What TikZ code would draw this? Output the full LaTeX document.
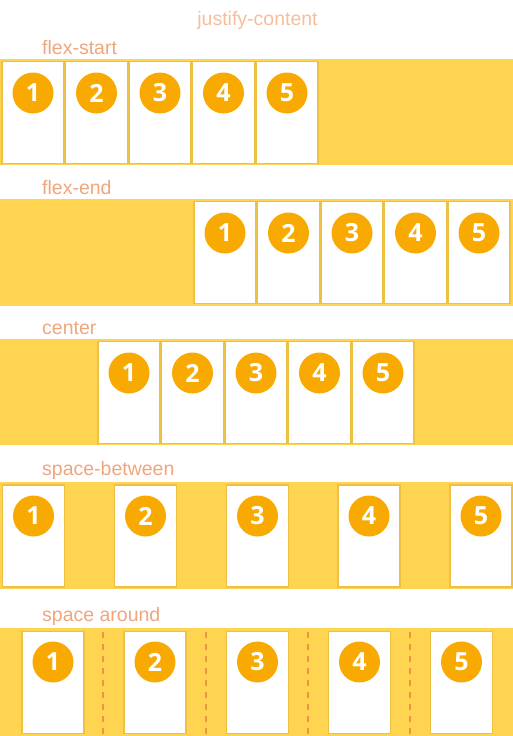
\documentclass[tikz,border=0pt]{standalone}
\usepackage{fontspec}
\setmainfont{Liberation Sans}
\newfontfamily\numfont{Open Sans}
\definecolor{bandc}{HTML}{FFD451}
\definecolor{boxline}{HTML}{EEC043}
\definecolor{circc}{HTML}{F8AA02}
\definecolor{lblc}{HTML}{F0A67C}
\definecolor{titlec}{HTML}{F6BE9C}
\definecolor{dashc}{HTML}{EE9545}
\tikzset{
  bandfill/.style={fill=bandc},
  fbox/.style={draw=boxline, line width=1.2pt, fill=white, inner sep=0pt, outer sep=0pt,
    minimum width=62pt, minimum height=102pt, anchor=north west},
  num/.style={circle, fill=circc, minimum size=41pt, inner sep=0pt,
    text=white, font=\numfont\fontsize{25pt}{25pt}\selectfont\bfseries},
  lbl/.style={anchor=base west, inner sep=0pt, text=lblc, font=\fontsize{19.5pt}{20pt}\selectfont},
  ttl/.style={anchor=base, inner sep=0pt, text=titlec, font=\fontsize{19.5pt}{20pt}\selectfont},
  dsh/.style={draw=dashc, line width=1.6pt, dash pattern=on 6pt off 6pt}
}
\begin{document}
\begin{tikzpicture}[x=1pt,y=-1pt]
\useasboundingbox (0,0) rectangle (513,736);
\fill[white] (0,0) rectangle (513,736);
% title
\node[ttl] (title) at (257.5,25) {justify-content};
% row 1: flex-start
\node[lbl] (l1) at (42,54) {flex-start};
\fill[bandfill] (0,59) rectangle (513,165);
\foreach \i/\x in {1/2,2/65.5,3/129,4/192.5,5/256}{
  \node[fbox] (r1b\i) at (\x,61.5) {};
  \node[num] (r1c\i) at (\x+31,93) {\i};
}
% row 2: flex-end
\node[lbl] (l2) at (42,194) {flex-end};
\fill[bandfill] (0,199) rectangle (513,306);
\foreach \i/\x in {1/194,2/257.5,3/321,4/384.5,5/448}{
  \node[fbox] (r2b\i) at (\x,201.5) {};
  \node[num] (r2c\i) at (\x+31,233) {\i};
}
% row 3: center
\node[lbl] (l3) at (42,334) {center};
\fill[bandfill] (0,339) rectangle (513,445);
\foreach \i/\x in {1/98,2/161.5,3/225,4/288.5,5/352}{
  \node[fbox] (r3b\i) at (\x,341.5) {};
  \node[num] (r3c\i) at (\x+31,373) {\i};
}
% row 4: space-between
\node[lbl] (l4) at (42,475.5) {space-between};
\fill[bandfill] (0,482) rectangle (513,589);
\foreach \i/\x in {1/2.5,2/114.5,3/226.5,4/338,5/450}{
  \node[fbox] (r4b\i) at (\x,485) {};
  \node[num] (r4c\i) at (\x+31,516) {\i};
}
% row 5: space around
\node[lbl] (l5) at (42,621.5) {space around};
\fill[bandfill] (0,628) rectangle (513,736);
\foreach \i/\x in {1/22,2/124,3/226.5,4/328.5,5/430.5}{
  \node[fbox] (r5b\i) at (\x,631.5) {};
  \node[num] (r5c\i) at (\x+31,662) {\i};
}
\foreach \j/\x in {1/103,2/206,3/308,4/410}{
  \coordinate (dt\j) at (\x,632);
  \coordinate (db\j) at (\x,736);
  \draw[dsh] (dt\j) -- (db\j);
}
\end{tikzpicture}
\end{document}
